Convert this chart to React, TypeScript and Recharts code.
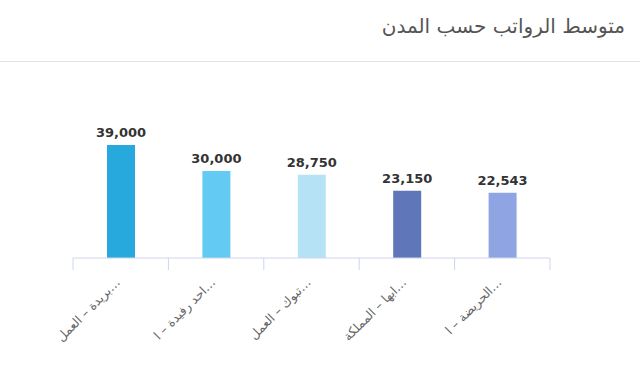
import { BarChart, Bar, XAxis, YAxis, Cell, LabelList } from "recharts";

const cities = [
  "بريدة – العمل…",
  "احد رفيدة – ا…",
  "تبوك – العمل…",
  "ابها – المملكة…",
  "الحريضة – ا…",
];
const salaries = [39000, 30000, 28750, 23150, 22543];
const barColors = ["#27a9dd", "#62caf3", "#b5e2f5", "#5f77b9", "#8fa5e3"];
const boundaryTicks = [0, 1, 2, 3, 4, 5];

const data = cities.map((city, i) => ({ city, salary: salaries[i], pos: i + 0.5 }));

const CityTick = (props: any) => {
  const { x, y, payload } = props;
  return (
    <g transform={`translate(${x - 3},${y + 13})`}>
      <text
        x={0}
        y={0}
        dy="0.35em"
        textAnchor="end"
        transform="rotate(-45)"
        fill="#666666"
        fontSize={12.5}
        fontFamily="DejaVu Sans, sans-serif"
      >
        {payload.value}
      </text>
    </g>
  );
};

export default function App() {
  return (
    <div
      style={{
        position: "relative",
        width: 640,
        height: 372,
        background: "#fff",
        fontFamily: "DejaVu Sans, sans-serif",
      }}
    >
      <style>{`body{margin:0}`}</style>
      <div
        style={{
          position: "absolute",
          right: 15,
          top: 14,
          fontSize: 20,
          color: "#555",
          direction: "rtl",
        }}
      >
        متوسط الرواتب حسب المدن
      </div>
      <div
        style={{
          position: "absolute",
          left: 0,
          top: 61,
          width: 640,
          borderTop: "1px solid #e3e3e3",
        }}
      />
      <div style={{ position: "absolute", left: 0, top: 0 }}>
        <BarChart
          width={640}
          height={372}
          data={data}
          margin={{ top: 142, right: 90, bottom: 0, left: 73 }}
        >
          <XAxis
            xAxisId="cat"
            dataKey="city"
            height={113}
            axisLine={false}
            tickLine={false}
            interval={0}
            tick={<CityTick />}
          />
          <XAxis
            xAxisId="base"
            dataKey="pos"
            type="number"
            domain={[0, 5]}
            ticks={boundaryTicks}
            height={1}
            tickFormatter={() => ""}
            tickSize={12}
            axisLine={{ stroke: "#ccd6eb" }}
            tickLine={{ stroke: "#ccd6eb" }}
          />
          <YAxis hide domain={[0, 40000]} />
          <Bar
            xAxisId="cat"
            dataKey="salary"
            barSize={28}
            isAnimationActive={false}
          >
            {data.map((d, i) => (
              <Cell key={d.city} fill={barColors[i]} />
            ))}
            <LabelList
              dataKey="salary"
              position="top"
              offset={8}
              formatter={(v: any) => Number(v).toLocaleString("en-US")}
              fill="#333"
              fontSize={13}
              fontWeight="bold"
              fontFamily="DejaVu Sans, sans-serif"
            />
          </Bar>
        </BarChart>
      </div>
    </div>
  );
}
